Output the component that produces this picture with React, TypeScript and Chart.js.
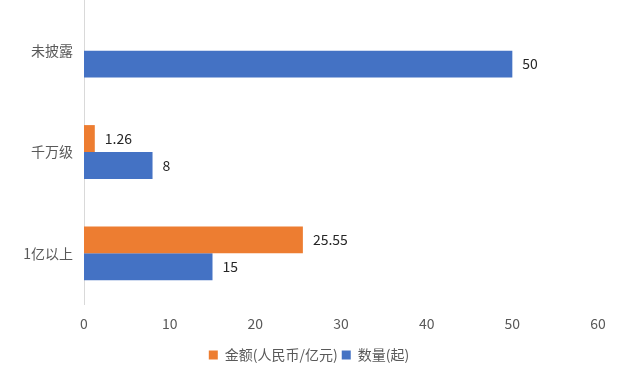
import React, { useEffect, useRef } from "react";
import { Chart, registerables } from "chart.js";

Chart.register(...registerables);

const categories = ["未披露", "千万级", "1亿以上"];
const amountLabel = "金额(人民币/亿元)";
const countLabel = "数量(起)";
const amountValues: (number | null)[] = [null, 1.26, 25.55];
const countValues: number[] = [50, 8, 15];
const xTicks = [0, 10, 20, 30, 40, 50, 60];

const FONT = "'Noto Sans CJK SC', 'Noto Sans', sans-serif";

const valueLabels = {
  id: "valueLabels",
  afterDatasetsDraw(chart: any) {
    const ctx = chart.ctx;
    ctx.save();
    ctx.font = `14px ${FONT}`;
    ctx.fillStyle = "#262626";
    ctx.textAlign = "left";
    ctx.textBaseline = "middle";
    chart.data.datasets.forEach((ds: any, di: number) => {
      const meta = chart.getDatasetMeta(di);
      meta.data.forEach((el: any, i: number) => {
        const v = ds.data[i];
        if (v === null || v === undefined) return;
        ctx.fillText(String(v), el.x + 10, el.y);
      });
    });
    ctx.restore();
  },
};

export default function App() {
  const ref = useRef<HTMLCanvasElement>(null);
  useEffect(() => {
    document.body.style.margin = "0";
    const chart = new Chart(ref.current!, {
      type: "bar",
      data: {
        labels: categories,
        datasets: [
          {
            label: amountLabel,
            data: amountValues,
            backgroundColor: "#ED7D31",
            categoryPercentage: 0.531,
            barPercentage: 1,
          },
          {
            label: countLabel,
            data: countValues,
            backgroundColor: "#4472C4",
            categoryPercentage: 0.531,
            barPercentage: 1,
          },
        ],
      },
      options: {
        indexAxis: "y",
        animation: false,
        responsive: false,
        maintainAspectRatio: false,
        layout: { padding: { top: 0, right: 11, bottom: 7, left: 0 } },
        scales: {
          x: {
            min: 0,
            max: 60,
            afterBuildTicks: (scale: any) => {
              scale.ticks = xTicks.map((v) => ({ value: v }));
            },
            afterFit: (scale: any) => {
              scale.height = 40;
              scale.paddingRight = 31;
            },
            grid: { display: false, drawTicks: false },
            border: { display: false },
            ticks: {
              padding: 11,
              color: "#595959",
              font: { size: 14, family: FONT },
            },
          },
          y: {
            afterFit: (scale: any) => {
              scale.width = 84;
              scale.paddingTop = 0;
              scale.paddingBottom = 0;
            },
            grid: { display: false, drawTicks: false },
            border: { display: true, color: "#d9d9d9", width: 1 },
            ticks: {
              padding: 11,
              color: "#595959",
              font: { size: 14, family: FONT },
            },
          },
        },
        plugins: {
          legend: {
            position: "bottom",
            labels: {
              boxWidth: 9,
              boxHeight: 9,
              padding: 4,
              color: "#595959",
              font: { size: 14, family: FONT },
            },
          },
          tooltip: { enabled: false },
        },
      },
      plugins: [valueLabels],
    });
    return () => chart.destroy();
  }, []);
  return (
    <div style={{ position: "fixed", left: 0, top: 0, width: 629, height: 379, background: "#fff" }}>
      <canvas ref={ref} width={629} height={379} />
    </div>
  );
}
